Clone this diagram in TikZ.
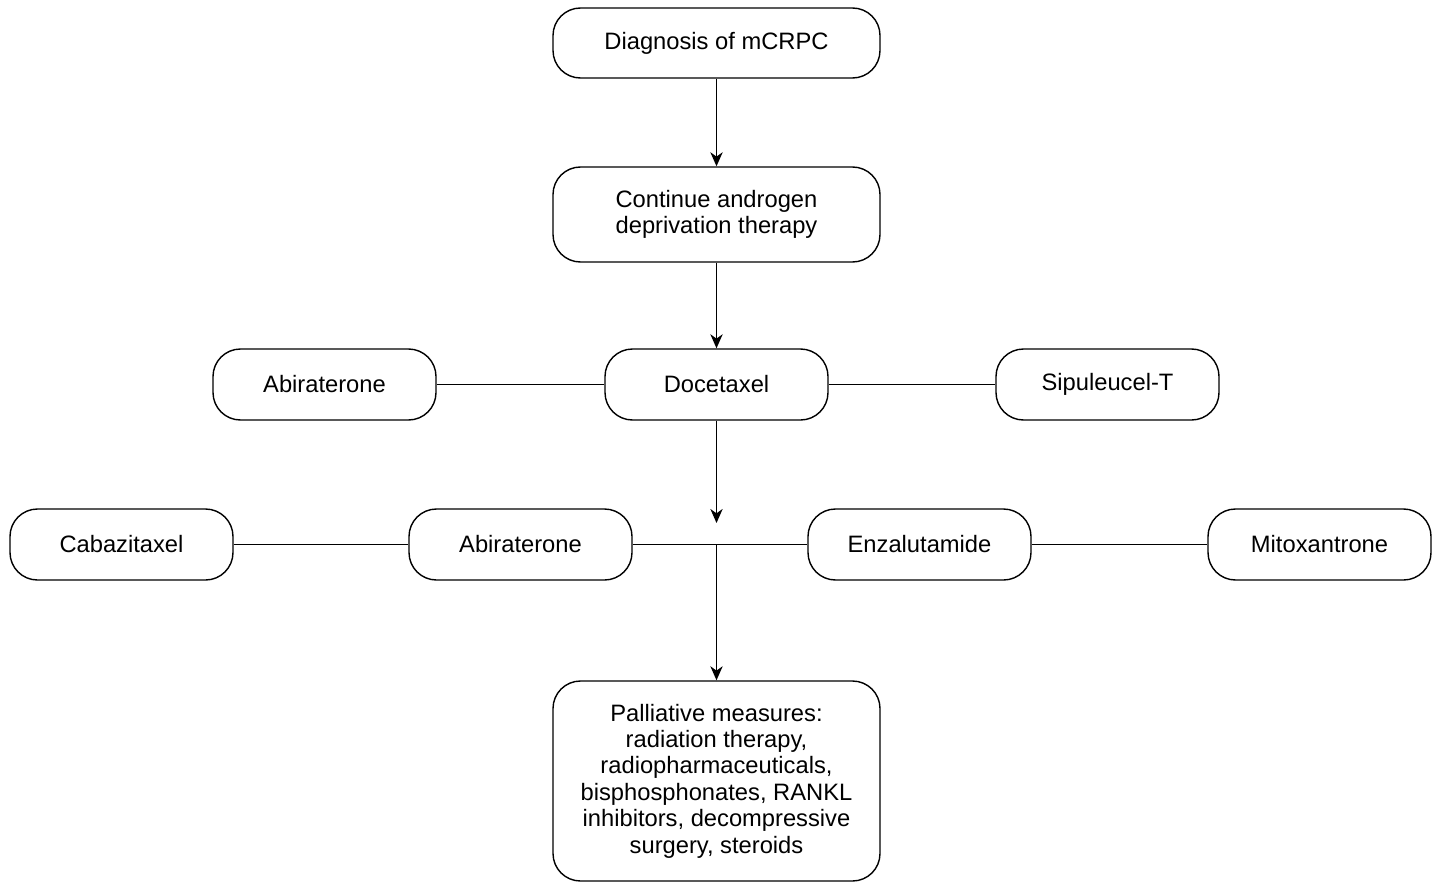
\documentclass[tikz,border=0pt]{standalone}
\usepackage{fontspec}
\setmainfont{Liberation Sans}
\usetikzlibrary{arrows.meta}
\begin{document}
\begin{tikzpicture}[
    box/.style={draw, line width=0.8pt, rounded corners=0.55cm, align=center,
      font=\fontsize{13.5}{15}\selectfont, inner sep=0pt},
    wide/.style={box, minimum width=6.54cm},
    small/.style={box, minimum width=4.46cm, minimum height=1.42cm},
    every path/.style={line width=0.8pt}
  ]
  \useasboundingbox (0,0) rectangle (28.76,-17.64);
      \draw
        (14.33,-0.86) node[wide, minimum height=1.40cm] (diag){Diagnosis of mCRPC}
        (14.33,-4.29) node[wide, minimum height=1.90cm] (adt){Continue androgen\\deprivation therapy}
        (14.33,-7.69) node[small] (doce){Docetaxel}
        (6.49,-7.69) node[small] (abi1){Abiraterone}
        (22.15,-7.69) node[small] (sipu){Sipuleucel-T}
        (2.43,-10.89) node[small] (caba){Cabazitaxel}
        (10.41,-10.89) node[small] (abi2){Abiraterone}
        (18.39,-10.89) node[small] (enza){Enzalutamide}
        (26.39,-10.89) node[small] (mito){Mitoxantrone}
        (14.33,-15.62) node[wide, minimum height=4.0cm] (pall){Palliative measures:\\radiation therapy,\\radiopharmaceuticals,\\bisphosphonates, RANKL\\inhibitors, decompressive\\surgery, steroids};
      \coordinate (stop) at (14.33,-10.46);
      \coordinate (join) at (14.33,-10.89);
      \begin{scope}[-]
        \draw (abi1) to (doce);
        \draw (doce) to (sipu);
        \draw (caba) to (abi2);
        \draw (abi2) to (enza);
        \draw (enza) to (mito);
      \end{scope}
      \begin{scope}[-{Stealth[length=8pt,width=7pt,inset=2.5pt]}]
        \draw (diag) to (adt);
        \draw (adt) to (doce);
        \draw (doce) to (stop);
        \draw (join) to (pall);
      \end{scope}
    \end{tikzpicture}
\end{document}
